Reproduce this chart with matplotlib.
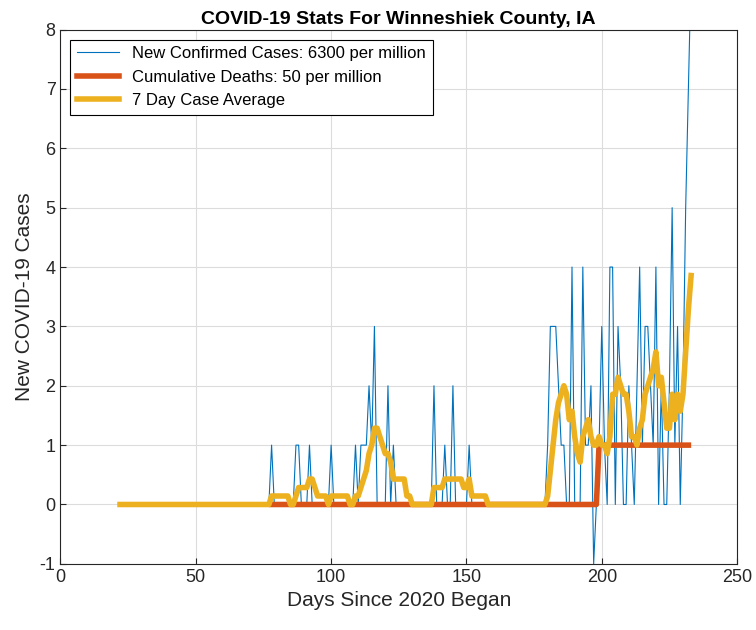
import numpy as np
import pandas as pd
import matplotlib.pyplot as plt

plt.rcParams['font.family'] = ['Liberation Sans', 'DejaVu Sans']
plt.rcParams['axes.unicode_minus'] = False

# daily new cases (non-zero days only), days 22..233
first_day = 22
last_day = 233
case_days = [78, 87, 88, 92, 100, 109, 111, 112, 113, 114, 115, 116, 121, 123,
             138, 142, 145, 151,
             180, 181, 182, 183, 184, 185, 186, 189, 193, 194, 195, 196, 197,
             199, 200, 201, 203, 204, 206, 207, 210, 211, 213, 214, 215, 216,
             217, 218, 219, 220, 222, 225, 226, 227, 228, 230, 231, 232, 233]
case_vals = [1, 1, 1, 1, 1, 1, 1, 1, 1, 2, 1, 3, 2, 1,
             2, 1, 2, 1,
             1, 3, 3, 3, 2, 1, 1, 4, 4, 1, 1, 2, -1,
             1, 3, 1, 4, 4, 3, 2, 2, 1, 2, 4, 1, 3,
             3, 2, 1, 4, 2, 2, 5, 1, 3, 2, 5, 7, 9]

death_days = [78, 198, 199, 232]
death_vals = [0, 0, 1, 1]

days = np.arange(first_day, last_day + 1)
cases = pd.Series(0.0, index=days)
cases[case_days] = case_vals
avg = cases.rolling(7, min_periods=1).mean()

fig, ax = plt.subplots(figsize=(7.56, 6.3), dpi=100)
ax.plot(days, cases.values, color='#0072BD', lw=0.8,
        label='New Confirmed Cases: 6300 per million')
ax.plot(death_days, death_vals, color='#D95319', lw=4,
        label='Cumulative Deaths: 50 per million')
ax.plot(days, avg.values, color='#EDB120', lw=4, label='7 Day Case Average')

ax.set_xlim(0, 250)
ax.set_ylim(-1, 8)
ax.set_xticks(range(0, 251, 50))
ax.set_yticks(range(-1, 9))
ax.grid(True, color='#dcdcdc', lw=0.8)
ax.tick_params(labelsize=13, direction='in', length=4, colors='#262626')
for s in ax.spines.values():
    s.set_color('#262626')
ax.set_xlabel('Days Since 2020 Began', fontsize=15, color='#262626')
ax.set_ylabel('New COVID-19 Cases', fontsize=15, color='#262626')
ax.set_title('COVID-19 Stats For Winneshiek County, IA', fontsize=14, fontweight='bold', pad=4)
leg = ax.legend(loc='upper left', fontsize=12, fancybox=False, edgecolor='black',
                framealpha=1, handlelength=2.5, borderaxespad=0.6)
leg.get_frame().set_linewidth(0.8)
plt.subplots_adjust(left=0.08, right=0.975, top=0.953, bottom=0.105)
plt.savefig('out.png')
